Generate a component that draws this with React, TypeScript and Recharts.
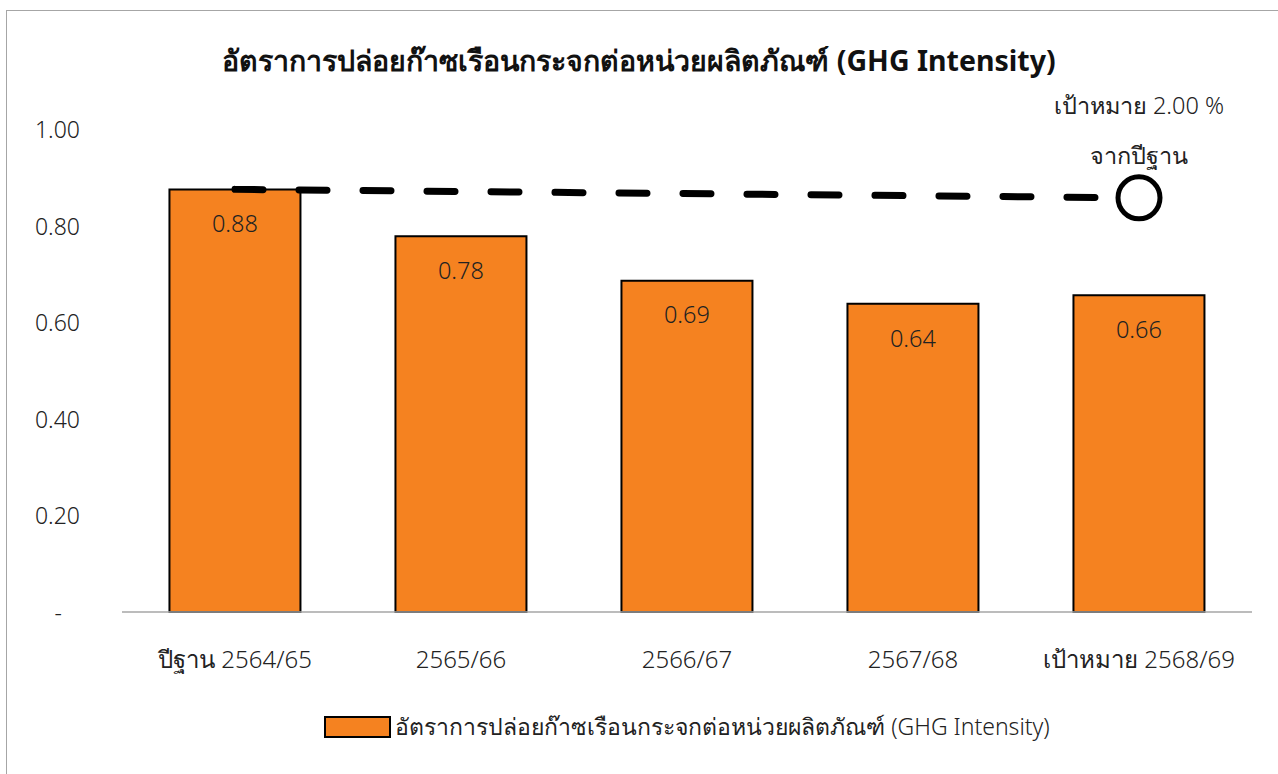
import React from 'react';
import { Bar, LabelList, Legend, Line, XAxis, YAxis, ComposedChart } from 'recharts';

const categories = ['ปีฐาน 2564/65', '2565/66', '2566/67', '2567/68', 'เป้าหมาย 2568/69'];
const intensity = [0.875, 0.778, 0.686, 0.638, 0.656];
// target line: base year value to 2% reduction target, drawn straight
const targetLine = [0.875, null, null, null, 0.8575];
const yTicks = [0, 0.2, 0.4, 0.6, 0.8, 1.0];

const seriesName = 'อัตราการปล่อยก๊าซเรือนกระจกต่อหน่วยผลิตภัณฑ์ (GHG Intensity)';
const title = 'อัตราการปล่อยก๊าซเรือนกระจกต่อหน่วยผลิตภัณฑ์ (GHG Intensity)';
const targetNote = ['เป้าหมาย 2.00 %', 'จากปีฐาน'];

const data = categories.map((name, i) => ({ name, value: intensity[i], target: targetLine[i] }));

const FONT = "'Noto Sans', sans-serif";
const ORANGE = '#F58220';
const TXT = '#222';

function TargetDot(props: any) {
  const { cx, cy, index } = props;
  if (index !== targetLine.length - 1 || cy == null) return <g key={`d${index}`} />;
  return (
    <g key={`d${index}`}>
      <circle cx={cx} cy={cy} r={21} fill="#fff" stroke="#000" strokeWidth={5} />
      <text x={cx} y={cy - 93} textAnchor="middle" dominantBaseline="central" fontSize={23.5} fontWeight={300} fill={TXT} fontFamily={FONT}>
        {targetNote[0]}
      </text>
      <text x={cx} y={cy - 43} textAnchor="middle" dominantBaseline="central" fontSize={23.5} fontWeight={300} fill={TXT} fontFamily={FONT}>
        {targetNote[1]}
      </text>
    </g>
  );
}

function YTick(props: any) {
  const { x, y, payload } = props;
  const zero = payload.value === 0;
  return (
    <text x={zero ? x - 18 : x} y={y} textAnchor="end" dominantBaseline="central" fontSize={23} fontWeight={300} fill={TXT} fontFamily={FONT}>
      {zero ? '-' : Number(payload.value).toFixed(2)}
    </text>
  );
}

function LegendContent() {
  return (
    <div style={{ display: 'flex', justifyContent: 'center', alignItems: 'center', fontFamily: FONT, fontSize: 23, fontWeight: 300, color: TXT }}>
      <span style={{ display: 'inline-block', width: 63, height: 18, background: ORANGE, border: '2px solid #000', marginRight: 4 }} />
      <span>{seriesName}</span>
    </div>
  );
}

export default function App() {
  return (
    <div style={{ position: 'fixed', left: 0, top: 0, width: 1278, height: 774, overflow: 'hidden', background: '#fff' }}>
      <div style={{ position: 'absolute', left: 6, top: 10, width: 1300, height: 800, border: '1.5px solid #a6a6a6' }} />
      <div
        style={{
          position: 'absolute',
          left: 0,
          top: 38,
          width: 1278,
          textAlign: 'center',
          fontFamily: FONT,
          fontWeight: 'bold',
          fontSize: 28.5,
          color: '#111',
        }}
      >
        {title}
      </div>
      <div style={{ position: 'absolute', left: 0, top: 0 }}>
        <ComposedChart width={1278} height={774} data={data} margin={{ top: 129, right: 26, left: 22, bottom: 102 }} barCategoryGap="21%">
          <XAxis
            dataKey="name"
            height={60}
            tickSize={0}
            tickMargin={39}
            tickLine={false}
            axisLine={{ stroke: '#a6a6a6', strokeWidth: 1.5 }}
            tick={{ fill: TXT, fontSize: 24, fontWeight: 300, fontFamily: FONT }}
            interval={0}
          />
          <YAxis
            domain={[0, 1]}
            ticks={yTicks}
            width={100}
            tickSize={0}
            tickMargin={42}
            axisLine={false}
            tickLine={false}
            tick={<YTick />}
          />
          <Legend
            verticalAlign="middle"
            align="center"
            layout="horizontal"
            content={<LegendContent />}
            wrapperStyle={{ position: 'absolute', top: 709, left: 122, width: 1130 }}
          />
          <Bar dataKey="value" name={seriesName} fill={ORANGE} stroke="#000" strokeWidth={2} isAnimationActive={false}>
            <LabelList
              dataKey="value"
              position="insideTop"
              offset={26}
              formatter={(v: any) => Number(v).toFixed(2)}
              style={{ fill: TXT, fontSize: 23.5, fontWeight: 300, fontFamily: FONT }}
            />
          </Bar>
          <Line
            dataKey="target"
            connectNulls
            stroke="#000"
            strokeWidth={7}
            strokeDasharray="28 36"
            strokeLinecap="round"
            dot={TargetDot}
            activeDot={false}
            legendType="none"
            isAnimationActive={false}
          />
        </ComposedChart>
      </div>
    </div>
  );
}
